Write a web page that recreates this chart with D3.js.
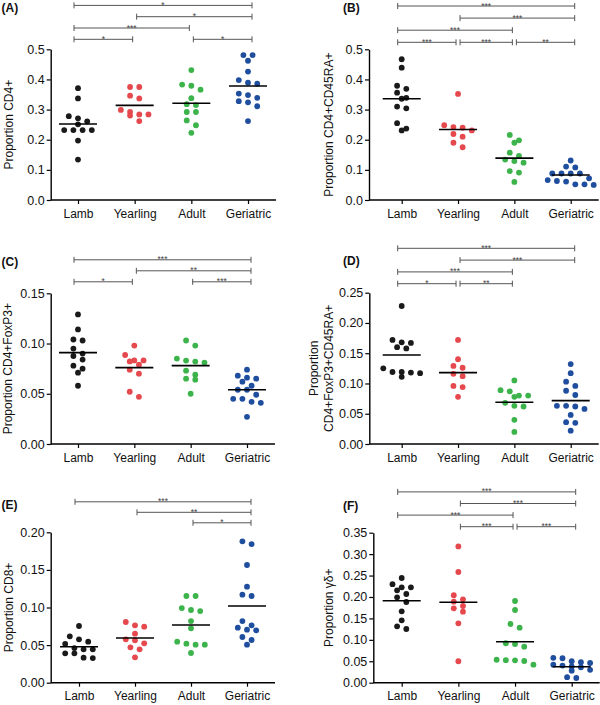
<!DOCTYPE html>
<html><head><meta charset="utf-8">
<script src="https://cdn.jsdelivr.net/npm/d3@7"></script>
<style>body{margin:0;background:#fff}svg{display:block}</style>
</head><body><svg id="c" width="600" height="705"></svg>
<script>
const categories = ["Lamb","Yearling","Adult","Geriatric"];
const groupColors = ["#1a1a1a","#e5484d","#3cb44b","#1f4e9e"];

// (A) Proportion CD4+
const cd4 = [
  [0.371,0.337,0.278,0.271,0.261,0.251,0.232,0.232,0.232,0.232,0.197,0.134],
  [0.375,0.375,0.346,0.337,0.299,0.292,0.284,0.284,0.280,0.262],
  [0.431,0.383,0.379,0.366,0.338,0.318,0.315,0.292,0.292,0.264,0.248,0.223],
  [0.481,0.481,0.462,0.426,0.398,0.389,0.386,0.353,0.348,0.339,0.328,0.324,0.311,0.262]
];
const cd4Means = [0.252,0.314,0.321,0.378];
const cd4Sig = [["Lamb","Geriatric",3,"*"],["Yearling","Geriatric",2,"*"],["Lamb","Adult",1,"***"],["Lamb","Yearling",0,"*"],["Adult","Geriatric",0,"*"]];

// (B) Proportion CD4+CD45RA+
const cd4Naive = [
  [0.467,0.439,0.379,0.369,0.356,0.339,0.336,0.310,0.304,0.255,0.237,0.231],
  [0.352,0.248,0.242,0.240,0.231,0.219,0.210,0.190,0.175],
  [0.216,0.198,0.190,0.157,0.146,0.134,0.129,0.124,0.096,0.091,0.060],
  [0.131,0.111,0.108,0.088,0.088,0.088,0.088,0.072,0.066,0.063,0.061,0.052,0.052,0.050]
];
const cd4NaiveMeans = [0.336,0.234,0.139,0.083];
const cd4NaiveSig = [["Lamb","Geriatric",3,"***"],["Yearling","Geriatric",2,"***"],["Lamb","Adult",1,"***"],["Lamb","Yearling",0,"***"],["Yearling","Adult",0,"***"],["Adult","Geriatric",0,"**"]];

// (C) Proportion CD4+FoxP3+
const treg = [
  [0.129,0.114,0.104,0.103,0.095,0.090,0.0876,0.084,0.078,0.075,0.071,0.058],
  [0.098,0.0886,0.0832,0.0832,0.0822,0.079,0.074,0.070,0.052,0.047],
  [0.103,0.098,0.085,0.083,0.082,0.081,0.073,0.069,0.065,0.064,0.050],
  [0.074,0.068,0.066,0.065,0.062,0.058,0.054,0.054,0.049,0.045,0.045,0.042,0.041,0.027]
];
const tregMeans = [0.091,0.076,0.078,0.054];
const tregSig = [["Lamb","Geriatric",2,"***"],["Yearling","Geriatric",1,"**"],["Lamb","Yearling",0,"*"],["Adult","Geriatric",0,"***"]];

// (D) Proportion CD4+FoxP3+CD45RA+
const naiveTreg = [
  [0.228,0.172,0.168,0.167,0.160,0.158,0.125,0.119,0.119,0.118,0.117,0.111],
  [0.172,0.140,0.129,0.126,0.116,0.112,0.096,0.094,0.078],
  [0.105,0.089,0.087,0.080,0.080,0.078,0.068,0.063,0.062,0.040,0.020],
  [0.132,0.117,0.103,0.096,0.088,0.081,0.063,0.063,0.062,0.058,0.048,0.036,0.035,0.022]
];
const naiveTregMeans = [0.147,0.118,0.069,0.0716];
const naiveTregSig = [["Lamb","Geriatric",3,"***"],["Yearling","Geriatric",2,"***"],["Lamb","Adult",1,"***"],["Lamb","Yearling",0,"*"],["Yearling","Adult",0,"**"]];

// (E) Proportion CD8+
const cd8 = [
  [0.0754,0.0617,0.0577,0.0545,0.0515,0.046,0.0444,0.0444,0.039,0.039,0.0333,0.0328],
  [0.0807,0.0763,0.0745,0.0652,0.0577,0.0563,0.0524,0.047,0.0444,0.0338],
  [0.1153,0.1153,0.0993,0.0967,0.0953,0.082,0.0723,0.0545,0.0519,0.0505,0.0505,0.0395],
  [0.188,0.1844,0.1565,0.1277,0.117,0.1153,0.082,0.0763,0.0732,0.0705,0.0697,0.0608,0.0568,0.0505]
];
const cd8Means = [0.0479,0.0594,0.0767,0.102];
const cd8Sig = [["Lamb","Geriatric",2,"***"],["Yearling","Geriatric",1,"**"],["Adult","Geriatric",0,"*"]];

// (F) Proportion γδ+
const gammaDelta = [
  [0.2443,0.230,0.2226,0.2226,0.2156,0.207,0.1992,0.1883,0.1666,0.1456,0.1316,0.1253],
  [0.318,0.2583,0.204,0.1946,0.189,0.179,0.1736,0.1657,0.1386,0.050],
  [0.1906,0.1696,0.137,0.1283,0.092,0.0903,0.084,0.0536,0.0526,0.0523,0.0506,0.042],
  [0.058,0.057,0.050,0.048,0.046,0.042,0.040,0.038,0.036,0.030,0.028,0.013,0.011]
];
const gammaDeltaMeans = [0.1913,0.1876,0.0957,0.0373];
const gammaDeltaSig = [["Lamb","Geriatric",3,"***"],["Yearling","Geriatric",2,"***"],["Lamb","Adult",1,"***"],["Yearling","Adult",0,"***"],["Adult","Geriatric",0,"***"]];

const panels = [
  {label:"(A)", values:cd4, means:cd4Means, sig:cd4Sig, yMax:0.5, step:0.1, fmt:".1f", title:["Proportion CD4+"],
   axisX:50.7, top:49.3, bottom:200, cat0:78, cat3:248, titleX:[12.5], lx:1.5, ly:12, bBase:10, bStep:11.3},
  {label:"(B)", values:cd4Naive, means:cd4NaiveMeans, sig:cd4NaiveSig, yMax:0.5, step:0.1, fmt:".1f", title:["Proportion CD4+CD45RA+"],
   axisX:369, top:49.3, bottom:200, cat0:401.7, cat3:570.7, titleX:[333], lx:343, ly:12, bBase:7, bStep:12.1},
  {label:"(C)", values:treg, means:tregMeans, sig:tregSig, yMax:0.15, step:0.05, fmt:".2f", title:["Proportion CD4+FoxP3+"],
   axisX:50.7, top:293.3, bottom:444, cat0:78, cat3:247, titleX:[12], lx:1.5, ly:266, bBase:11.5, bStep:11},
  {label:"(D)", values:naiveTreg, means:naiveTregMeans, sig:naiveTregSig, yMax:0.25, step:0.05, fmt:".2f", title:["Proportion","CD4+FoxP3+CD45RA+"],
   axisX:369.3, top:292.7, bottom:444, cat0:401.7, cat3:570.7, titleX:[318,333], lx:343, ly:265, bBase:9, bStep:11.8},
  {label:"(E)", values:cd8, means:cd8Means, sig:cd8Sig, yMax:0.2, step:0.05, fmt:".2f", title:["Proportion CD8+"],
   axisX:50.7, top:532.3, bottom:682.7, cat0:79, cat3:247, titleX:[12.5], lx:1.5, ly:509, bBase:9.5, bStep:10.5},
  {label:"(F)", values:gammaDelta, means:gammaDeltaMeans, sig:gammaDeltaSig, yMax:0.35, step:0.05, fmt:".2f", title:["Proportion γδ+"],
   axisX:373.3, top:532.7, bottom:682.7, cat0:401.7, cat3:571.7, titleX:[333], lx:343, ly:510, bBase:6, bStep:11.6}
];

const FONT = "'Liberation Sans', Arial, Helvetica, sans-serif";
const svg = d3.select("#c");
const R = 2.9, STEP = 9.2, BIN = 5.5;

function swarm(vals, y) {
  const pts = vals.map(v => ({v, py: y(v)})).sort((a,b) => a.py - b.py);
  const rows = [];
  pts.forEach(p => {
    const last = rows[rows.length-1];
    if (last && Math.abs(p.py - last[0].py) <= BIN) last.push(p); else rows.push([p]);
  });
  rows.forEach(row => row.forEach((p,i) => p.dx = (i - (row.length-1)/2) * STEP));
  return pts;
}

panels.forEach(p => {
  const g = svg.append("g");
  const y = d3.scaleLinear().domain([0, p.yMax]).range([p.bottom, p.top]);
  const x = d3.scalePoint().domain(categories).range([p.cat0, p.cat3]);
  const ticks = d3.range(0, Math.round(p.yMax/p.step)+1).map(i => +(i*p.step).toFixed(4));

  const ya = g.append("g").attr("transform", `translate(${p.axisX},0)`)
    .call(d3.axisLeft(y).tickValues(ticks).tickFormat(d3.format(p.fmt)).tickSize(4).tickPadding(2).tickSizeOuter(0));
  const xa = g.append("g").attr("transform", `translate(0,${p.bottom})`)
    .call(d3.axisBottom(x).tickSize(4).tickPadding(5).tickSizeOuter(0));
  xa.select(".domain").remove();
  g.append("line").attr("x1", p.axisX).attr("x2", p.cat3 + 28).attr("y1", p.bottom).attr("y2", p.bottom)
    .attr("stroke", "#000").attr("stroke-width", 1.4);
  [ya, xa].forEach(a => {
    a.attr("font-family", FONT).attr("font-size", null);
    a.selectAll(".domain").attr("stroke", "#000").attr("stroke-width", 1.4);
    a.selectAll(".tick line").attr("stroke", "#000").attr("stroke-width", 1.2);
    a.selectAll(".tick text").attr("fill", "#111");
  });
  ya.selectAll(".tick text").attr("font-size", 12.5);
  xa.selectAll(".tick text").attr("font-size", 12);

  const cy = (p.top + p.bottom) / 2;
  p.title.forEach((t, i) => {
    g.append("text").attr("transform", `translate(${p.titleX[i]},${cy}) rotate(-90)`)
      .attr("text-anchor", "middle").attr("font-family", FONT).attr("font-size", 12).attr("fill", "#111").text(t);
  });
  g.append("text").attr("x", p.lx).attr("y", p.ly).attr("font-family", FONT).attr("font-size", 12)
    .attr("font-weight", "bold").attr("fill", "#111").text(p.label);

  p.values.forEach((vals, gi) => {
    const cx = x(categories[gi]);
    const pts = swarm(vals, y);
    g.append("g").selectAll("circle").data(pts).join("circle")
      .attr("cx", d => cx + d.dx).attr("cy", d => y(d.v)).attr("r", R).attr("fill", groupColors[gi]);
    g.append("line").attr("x1", cx - 19).attr("x2", cx + 19)
      .attr("y1", y(p.means[gi])).attr("y2", y(p.means[gi])).attr("stroke", "#000").attr("stroke-width", 1.6);
  });

  const last = categories.length - 1;
  p.sig.forEach(([from, to, row, lab]) => {
    const fi = categories.indexOf(from), ti = categories.indexOf(to);
    const x1 = fi === 0 ? x(from) - 4 : x(from) + 2;
    const x2 = ti === last ? x(to) + 4 : x(to) - 2;
    const yb = p.top - p.bBase - row * p.bStep;
    g.append("path").attr("d", `M${x1},${yb-3}V${yb+3}M${x1},${yb}H${x2}M${x2},${yb-3}V${yb+3}`)
      .attr("fill", "none").attr("stroke", "#555").attr("stroke-width", 1);
    g.append("text").attr("x", (x1 + x2) / 2).attr("y", yb + 2.5).attr("text-anchor", "middle")
      .attr("font-family", FONT).attr("font-size", 8.5).attr("fill", "#444").text(lab);
  });
});
</script>
</body></html>
